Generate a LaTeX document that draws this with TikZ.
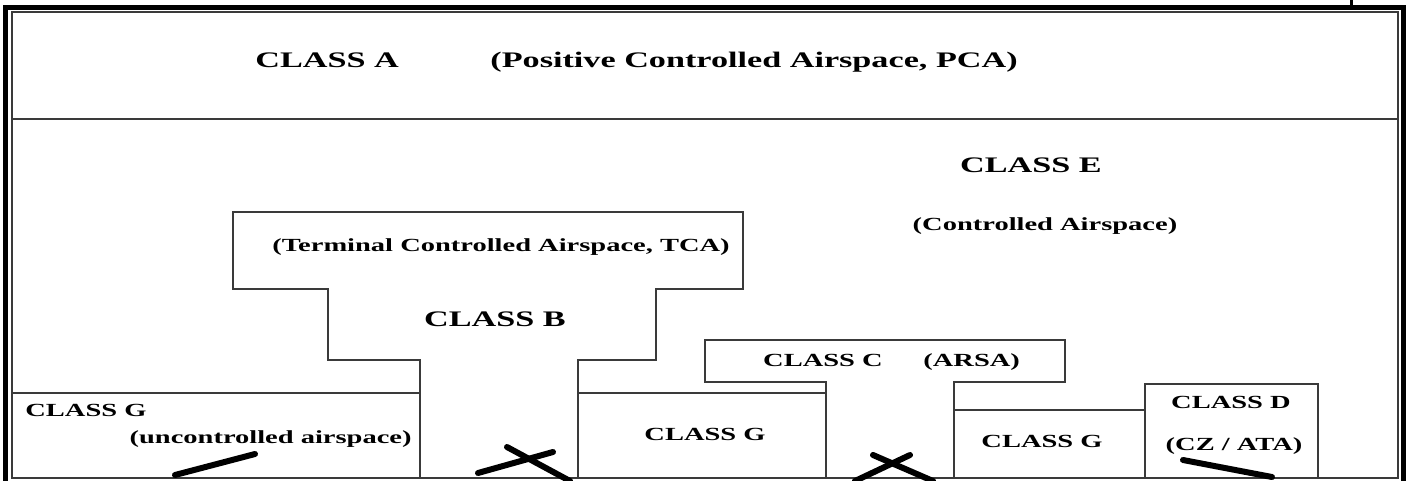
\documentclass[tikz,border=0pt]{standalone}
\usepackage{fontspec}
\setmainfont{Liberation Serif}[FakeStretch=1.54]
\usetikzlibrary{positioning}
\definecolor{asInk}{HTML}{000000}
\definecolor{asRule}{HTML}{3A3A3A}
\tikzset{
  frame/.style={draw=asInk, line width=2.5pt},
  rule/.style={draw=asRule, line width=1pt},
  zone/.style={draw=asRule, line width=1pt, line join=miter},
  big/.style={inner sep=0pt, text=asInk, font=\fontsize{11.1}{13}\selectfont\bfseries},
  small/.style={inner sep=0pt, text=asInk, font=\fontsize{9.25}{11}\selectfont\bfseries},
  scrawl/.style={draw=asInk, line width=3pt, line cap=round},
}
\begin{document}
\begin{tikzpicture}[x=0.5pt, y=-0.5pt]
  \useasboundingbox (0,0) rectangle (1407,481);
  \clip (0,0) rectangle (1407,481);

  % outer frame
  \draw[frame] (5.5,495) -- (5.5,8) -- (1403,8) -- (1403,495);
  \draw[draw=asInk, line width=1.2pt] (1351.5,0) -- (1351.5,8);
  \draw[rule] (12,478) -- (12,12) -- (1398,12) -- (1398,478) -- cycle;
  \draw[rule] (12,119) -- (1398,119);

  % class B
  \draw[zone] (420,478) -- (420,360) -- (328,360) -- (328,289) -- (233,289)
    -- (233,212) -- (743,212) -- (743,289) -- (656,289) -- (656,360)
    -- (578,360) -- (578,478);
  % class C
  \draw[zone] (826,478) -- (826,382) -- (705,382) -- (705,340) -- (1065,340)
    -- (1065,382) -- (954,382) -- (954,478);
  % class G
  \draw[zone] (12,393) -- (420,393);
  \draw[zone] (578,393) -- (826,393);
  \draw[zone] (954,410) -- (1145,410);
  % class D
  \draw[zone] (1145,478) -- (1145,384) -- (1318,384) -- (1318,478);

  \node[big, anchor=base west] (clsA) at (255,68) {CLASS A};
  \node[big, anchor=base west] (pca) at (490,68) {(Positive Controlled Airspace, PCA)};
  \node[big, anchor=base] (clsE) at (1031,172) {CLASS E};
  \node[small, anchor=base] (ctrl) at (1045,230) {(Controlled Airspace)};
  \node[small, anchor=base] (tca) at (501,251) {(Terminal Controlled Airspace, TCA)};
  \node[big, anchor=base] (clsB) at (495,326) {CLASS B};
  \node[small, anchor=base] (clsC) at (823,366) {CLASS C};
  \node[small, anchor=base west] (arsa) at (923,366) {(ARSA)};
  \node[small, anchor=base west] (gLeft) at (25,416) {CLASS G};
  \node[small, anchor=base east] (unctl) at (412,443) {(uncontrolled airspace)};
  \node[small, anchor=base] (gMid) at (705,440) {CLASS G};
  \node[small, anchor=base] (gRight) at (1042,447) {CLASS G};
  \node[small, anchor=base] (clsD) at (1231,408) {CLASS D};
  \node[small, anchor=base] (czata) at (1234,450) {(CZ / ATA)};

  % hand strokes
  \draw[scrawl] (175,475) -- (255,454);
  \draw[scrawl] (478,473) -- (553,452);
  \draw[scrawl] (507,447) -- (570,481);
  \draw[scrawl] (855,481) -- (910,455);
  \draw[scrawl] (873,455) -- (933,481);
  \draw[scrawl] (1183,460) -- (1272,477);
\end{tikzpicture}
\end{document}
